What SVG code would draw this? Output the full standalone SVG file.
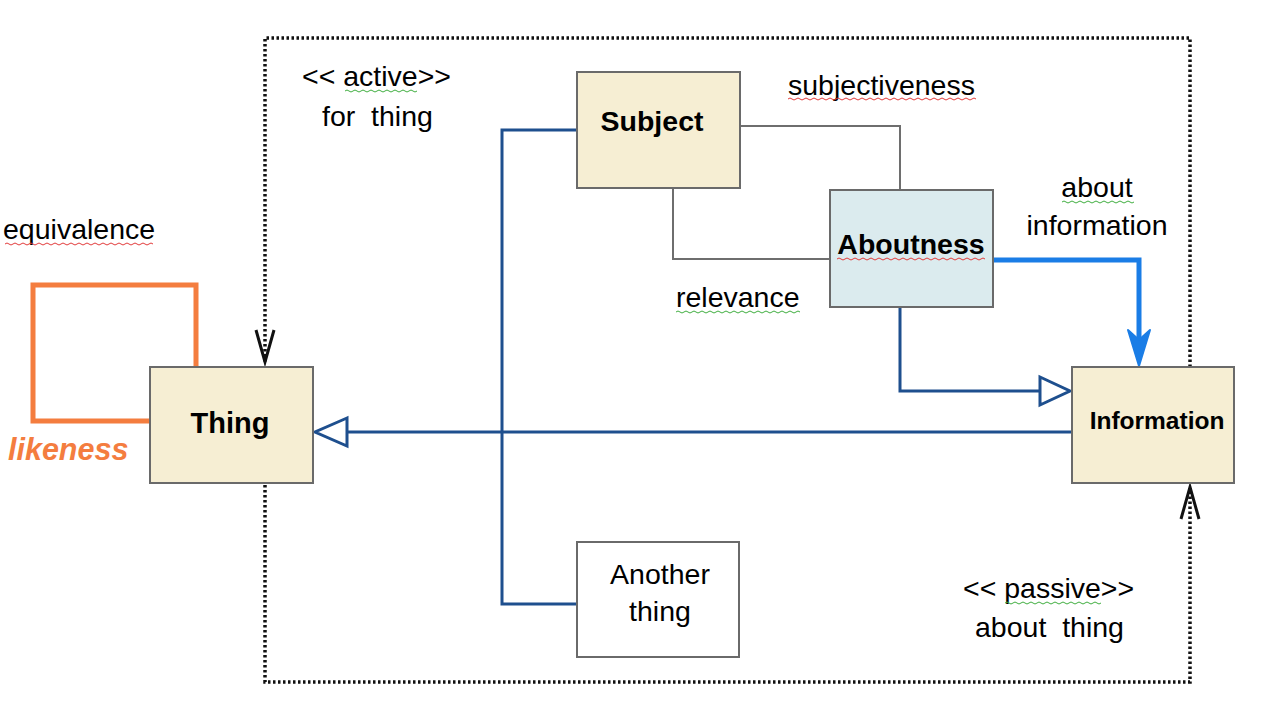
<svg xmlns="http://www.w3.org/2000/svg" width="1266" height="715" viewBox="0 0 1266 715">
<defs>
<style>
.box{fill:#f6eed3;stroke:#6a6a6a;stroke-width:2}
.lbl{font-family:"Liberation Sans",Arial,sans-serif;font-size:28.5px;fill:#000}
.bold{font-family:"Liberation Sans",Arial,sans-serif;font-weight:bold;fill:#000}
.dot{fill:none;stroke:#111;stroke-width:3.5;stroke-dasharray:2.5 2.5}
.gray{fill:none;stroke:#6e6e6e;stroke-width:2}
.dk{fill:none;stroke:#1e4f8e;stroke-width:3}
.open{fill:#fff;stroke:#1e4f8e;stroke-width:3}
.vee{fill:none;stroke:#111;stroke-width:3}
.sqr{fill:none;stroke:#e23b3b;stroke-width:1}
.sqg{fill:none;stroke:#3fae3f;stroke-width:1}
</style>
</defs>
<rect width="1266" height="715" fill="#fff"/>
<g id="connectors">
<path class="dot" d="M1190,367 V38 H265 V362"/>
<path class="vee" d="M256,330 L265,362 L274,330"/>
<path class="dot" d="M265,485 V682 H1190 V488"/>
<path class="vee" d="M1181,519 L1190,487 L1199,519"/>
<path d="M150,421 H33 V285 H196 V367" fill="none" stroke="#f47d3f" stroke-width="5"/>
<path class="gray" d="M740,126 H900 V190"/>
<path class="gray" d="M673,188 V259 H830"/>
<path class="dk" d="M577,130 H502 V604 H577"/>
<path class="dk" d="M1072,432 H347"/>
<path class="open" d="M347,418 L315,432 L347,446 Z"/>
<path class="dk" d="M900,307 V391 H1040"/>
<path class="open" d="M1040,377 L1070,391 L1040,405 Z"/>
<path d="M993,260 H1139 V340" fill="none" stroke="#1a7de6" stroke-width="5"/>
<path d="M1128,330 L1139,366 L1150,330 L1139,340 Z" fill="#1a7de6" stroke="#1a7de6" stroke-width="2" stroke-linejoin="round"/>
</g>
<g id="thing">
<rect class="box" x="150" y="367" width="163" height="116"/>
<text class="bold" x="230" y="433" font-size="29" text-anchor="middle">Thing</text>
</g>
<g id="subject">
<rect class="box" x="577" y="72" width="163" height="116"/>
<text class="bold" x="652" y="131" font-size="28.5" text-anchor="middle">Subject</text>
</g>
<g id="aboutness">
<rect x="830" y="190" width="163" height="117" fill="#dbebee" stroke="#6a6a6a" stroke-width="2"/>
<text class="bold" x="911" y="254" font-size="28.5" text-anchor="middle">Aboutness</text>
<path class="sqr" d="M837,259 q2,-2 4,0 t4,0 t4,0 t4,0 t4,0 t4,0 t4,0 t4,0 t4,0 t4,0 t4,0 t4,0 t4,0 t4,0 t4,0 t4,0 t4,0 t4,0 t4,0 t4,0 t4,0 t4,0 t4,0 t4,0 t4,0 t4,0 t4,0 t4,0 t4,0 t4,0 t4,0 t4,0 t4,0 t4,0 t4,0 t4,0 t4,0"/>
</g>
<g id="information">
<rect class="box" x="1072" y="367" width="162" height="116"/>
<text class="bold" x="1157" y="429" font-size="24.5" text-anchor="middle">Information</text>
</g>
<g id="another-thing">
<rect x="577" y="542" width="162" height="115" fill="#fff" stroke="#6a6a6a" stroke-width="2"/>
<text class="lbl" x="660" y="584" text-anchor="middle">Another</text>
<text class="lbl" x="660" y="621" text-anchor="middle">thing</text>
</g>
<g id="labels">
<text class="lbl" x="3" y="239">equivalence</text>
<path class="sqr" d="M5,244 q2,-2 4,0 t4,0 t4,0 t4,0 t4,0 t4,0 t4,0 t4,0 t4,0 t4,0 t4,0 t4,0 t4,0 t4,0 t4,0 t4,0 t4,0 t4,0 t4,0 t4,0 t4,0 t4,0 t4,0 t4,0 t4,0 t4,0 t4,0 t4,0 t4,0 t4,0 t4,0 t4,0 t4,0 t4,0 t4,0 t4,0 t4,0"/>
<text x="8" y="460" font-family="Liberation Sans,Arial,sans-serif" font-size="30.5" font-weight="bold" font-style="italic" fill="#f47d3f">likeness</text>
<text class="lbl" x="302" y="86">&lt;&lt; active&gt;&gt;</text>
<path class="sqg" d="M345,91 q2,-2 4,0 t4,0 t4,0 t4,0 t4,0 t4,0 t4,0 t4,0 t4,0 t4,0 t4,0 t4,0 t4,0 t4,0 t4,0 t4,0 t4,0 t4,0"/>
<text class="lbl" x="322" y="126" xml:space="preserve">for  thing</text>
<text class="lbl" x="788" y="95">subjectiveness</text>
<path class="sqr" d="M788,99 q2,-2 4,0 t4,0 t4,0 t4,0 t4,0 t4,0 t4,0 t4,0 t4,0 t4,0 t4,0 t4,0 t4,0 t4,0 t4,0 t4,0 t4,0 t4,0 t4,0 t4,0 t4,0 t4,0 t4,0 t4,0 t4,0 t4,0 t4,0 t4,0 t4,0 t4,0 t4,0 t4,0 t4,0 t4,0 t4,0 t4,0 t4,0 t4,0 t4,0 t4,0 t4,0 t4,0 t4,0 t4,0 t4,0 t4,0 t4,0"/>
<text class="lbl" x="676" y="307">relevance</text>
<path class="sqg" d="M676,312 q2,-2 4,0 t4,0 t4,0 t4,0 t4,0 t4,0 t4,0 t4,0 t4,0 t4,0 t4,0 t4,0 t4,0 t4,0 t4,0 t4,0 t4,0 t4,0 t4,0 t4,0 t4,0 t4,0 t4,0 t4,0 t4,0 t4,0 t4,0 t4,0 t4,0 t4,0 t4,0"/>
<text class="lbl" x="1097" y="197" text-anchor="middle">about</text>
<path class="sqg" d="M1062,202 q2,-2 4,0 t4,0 t4,0 t4,0 t4,0 t4,0 t4,0 t4,0 t4,0 t4,0 t4,0 t4,0 t4,0 t4,0 t4,0 t4,0 t4,0 t4,0"/>
<text class="lbl" x="1097" y="235" text-anchor="middle">information</text>
<text class="lbl" x="963" y="598">&lt;&lt; passive&gt;&gt;</text>
<path class="sqg" d="M1005,603 q2,-2 4,0 t4,0 t4,0 t4,0 t4,0 t4,0 t4,0 t4,0 t4,0 t4,0 t4,0 t4,0 t4,0 t4,0 t4,0 t4,0 t4,0 t4,0 t4,0 t4,0 t4,0 t4,0 t4,0 t4,0"/>
<text class="lbl" x="975" y="637" xml:space="preserve">about  thing</text>
</g>
</svg>
